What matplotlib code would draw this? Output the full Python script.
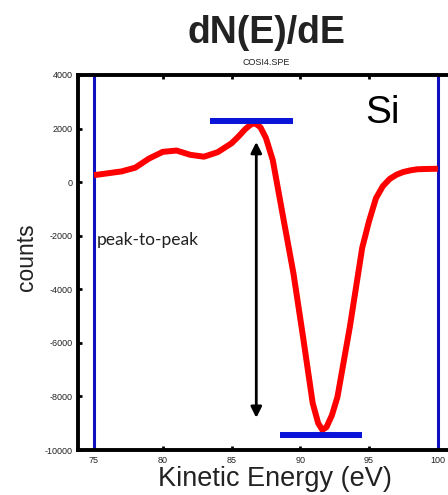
import matplotlib
matplotlib.use("Agg")
import matplotlib.pyplot as plt

# Auger spectrum (derivative mode), Si LVV region
energy = [75, 76, 77, 78, 79, 80, 81, 82, 83, 84, 85, 85.5, 86, 86.4, 86.7,
          87.1, 87.5, 88.0, 88.7, 89.5, 90.2, 90.9, 91.3, 91.6, 91.9, 92.3,
          92.7, 93.6, 94.5, 95.0, 95.5, 96.0, 96.5, 97.0, 97.5, 98.0, 98.5,
          99.0, 100]
counts = [260, 330, 400, 540, 880, 1130, 1180, 1020, 950, 1120, 1450, 1700,
          1980, 2150, 2200, 2050, 1650, 820, -1160, -3400, -5780, -8250,
          -9000, -9250, -9150, -8700, -8020, -5410, -2450, -1450, -600, -150,
          120, 280, 380, 440, 480, 490, 500]

# Reference markers
bounds = [75, 100]
max_level, max_span = 2300, (83.4, 89.5)
min_level, min_span = -9440, (88.5, 94.5)
arrow_x, arrow_top, arrow_bottom = 86.8, 1500, -8800

xticks = [75, 80, 85, 90, 95, 100]
yticks = [-10000, -8000, -6000, -4000, -2000, 0, 2000, 4000]

plt.rcParams['font.family'] = ['Liberation Sans', 'DejaVu Sans']
plt.rcParams['axes.unicode_minus'] = False

fig = plt.figure(figsize=(4.48, 4.95), dpi=100)
ax = fig.add_axes([0.1741, 0.0909, 0.834, 0.7576])

for b in bounds:
    ax.axvline(b, color='#1010c0', lw=2.2, zorder=2)

ax.plot(energy, counts, color='#ff0000', lw=4.3, solid_joinstyle='round',
        solid_capstyle='butt', zorder=3)

ax.hlines(max_level, *max_span, color='#0a14d8', lw=4.3, zorder=4)
ax.hlines(min_level, *min_span, color='#0a14d8', lw=4.3, zorder=4)

ax.annotate('', xy=(arrow_x, arrow_top), xytext=(arrow_x, arrow_bottom),
            arrowprops=dict(arrowstyle='<|-|>', color='black', lw=2.0,
                            mutation_scale=16, shrinkA=0, shrinkB=0),
            zorder=5)

ax.text(75.2, -2150, 'peak-to-peak', fontsize=12.5, color='#222222',
        family=['Lato', 'DejaVu Sans'], va='center', ha='left')
ax.text(94.7, 2575, 'Si', fontsize=28, color='black', va='center', ha='left')

ax.set_xlim(73.84, 101)
ax.set_ylim(-10000, 4000)
ax.set_xticks(xticks)
ax.set_yticks(yticks)
ax.tick_params(axis='both', direction='in', length=3, width=2,
               labelsize=6.5, pad=4, top=True, right=False,
               labelcolor='#222222')
for side in ['left', 'bottom', 'top']:
    ax.spines[side].set_linewidth(2.8)
ax.spines['right'].set_visible(False)

ax.set_xlabel('Kinetic Energy (eV)', fontsize=19.5, color='#222222')
ax.xaxis.set_label_coords(0.527, -0.078)
ax.xaxis.label.set_va('center')
ax.set_ylabel('counts', fontsize=16.5, color='#222222')
ax.yaxis.set_label_coords(-0.139, 0.515)
ax.yaxis.label.set_va('center')

fig.text(0.594, 0.933, 'dN(E)/dE', fontsize=27, fontweight='bold',
         ha='center', va='center', color='#222222')
fig.text(0.594, 0.874, 'COSI4.SPE', fontsize=6.5, ha='center', va='center',
         color='#222222')

fig.savefig('out.png', dpi=100)
